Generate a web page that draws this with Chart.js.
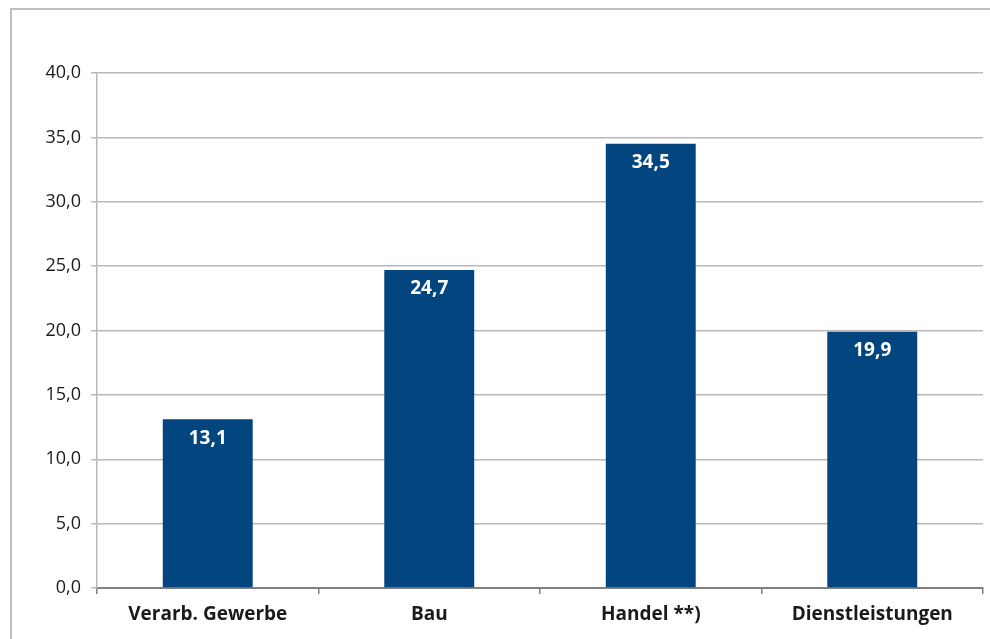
<!DOCTYPE html>
<html>
<head>
<meta charset="utf-8">
<script src="https://cdn.jsdelivr.net/npm/chart.js@4"></script>
<style>
  html, body { margin: 0; padding: 0; background: #fff; overflow: hidden; }
  #frame {
    position: absolute; left: 10px; top: 8px; width: 1200px; height: 900px;
    border-left: 2px solid #c0c0c0; border-top: 2px solid #c0c0c0;
  }
  #wrap { position: absolute; left: 0; top: 0; width: 990px; height: 639px; }
</style>
</head>
<body>
<div id="frame"></div>
<div id="wrap"><canvas id="chart"></canvas></div>
<script>
// Daten
const categories = ['Verarb. Gewerbe', 'Bau', 'Handel **)', 'Dienstleistungen'];
const values = [13.1, 24.7, 34.5, 19.9];
const yTicks = [0, 5, 10, 15, 20, 25, 30, 35, 40];

const fmt = v => v.toFixed(1).replace('.', ',');

// Werte in die Balken schreiben
const valueLabels = {
    id: 'valueLabels',
    afterDatasetsDraw(chart) {
        const ctx = chart.ctx;
        const meta = chart.getDatasetMeta(0);
        ctx.save();
        ctx.fillStyle = '#ffffff';
        ctx.font = 'bold 19px "Open Sans"';
        ctx.textAlign = 'center';
        ctx.textBaseline = 'middle';
        meta.data.forEach((bar, i) => {
            ctx.fillText(fmt(values[i]), bar.x, bar.y + 19);
        });
        ctx.restore();
    }
};

new Chart(document.getElementById('chart').getContext('2d'), {
    type: 'bar',
    data: {
        labels: categories,
        datasets: [{
            data: values,
            backgroundColor: '#02457F',
            categoryPercentage: 1,
            barPercentage: 0.406
        }]
    },
    options: {
        responsive: true,
        maintainAspectRatio: false,
        animation: false,
        layout: { padding: { top: 73, right: 7, bottom: 0, left: 0 } },
        plugins: { legend: { display: false }, tooltip: { enabled: false } },
        scales: {
            x: {
                afterFit: s => { s.height = 51; },
                grid: {
                    offset: true,
                    drawOnChartArea: false,
                    drawTicks: true,
                    tickLength: 6,
                    color: '#808080',
                    lineWidth: 1.5
                },
                border: { color: '#808080', width: 2 },
                ticks: {
                    color: '#1a1a1a',
                    padding: 9,
                    font: { family: '"Open Sans"', size: 19, weight: 'bold' }
                }
            },
            y: {
                min: 0,
                max: 40,
                afterFit: s => { s.width = 97; },
                afterBuildTicks: s => { s.ticks = yTicks.map(v => ({ value: v })); },
                grid: { color: '#b8b8b8', lineWidth: 1.5, tickLength: 6 },
                border: { color: '#b8b8b8', width: 1.5 },
                ticks: {
                    color: '#1a1a1a',
                    padding: 10,
                    font: { family: '"Open Sans"', size: 18 },
                    callback: v => fmt(v)
                }
            }
        }
    },
    plugins: [valueLabels]
});
</script>
</body>
</html>
